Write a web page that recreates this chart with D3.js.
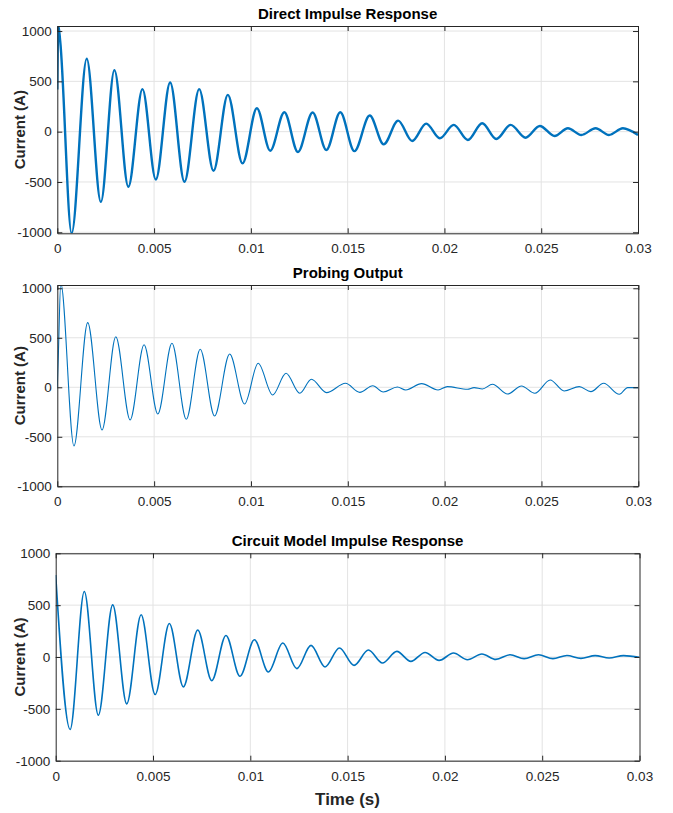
<!DOCTYPE html>
<html>
<head>
<meta charset="utf-8">
<script src="https://cdn.jsdelivr.net/npm/d3@7"></script>
<style>
  body { margin: 0; background: #fff; }
  text { font-family: "Liberation Sans", Arial, sans-serif; }
</style>
</head>
<body>
<script>
// Size of the whole figure
var width = 673;
var height = 813;

// Tick values shared by all three panels
var xTicks = [0, 0.005, 0.01, 0.015, 0.02, 0.025, 0.03];
var yTicks = [-1000, -500, 0, 500, 1000];

// Panel titles
var titles = ["Direct Impulse Response", "Probing Output", "Circuit Model Impulse Response"];

// Direct impulse response: peaks and troughs (s, A)
var directTime = [0, 0.00005, 0.00015, 0.00074, 0.00152, 0.00225, 0.00295, 0.00367, 0.00440,
  0.00509, 0.00583, 0.00657, 0.00733, 0.00807, 0.00881, 0.00957, 0.01031, 0.01100,
  0.01173, 0.01243, 0.01319, 0.01390, 0.01462, 0.01535, 0.01614, 0.01686, 0.01761,
  0.01833, 0.01906, 0.01976, 0.02048, 0.02121, 0.02195, 0.02268, 0.02342, 0.02419,
  0.02493, 0.02569, 0.02638, 0.02707, 0.02781, 0.02850, 0.02922, 0.03000];
var directCurrent = [420, 1060, 900, -1010, 725, -698, 612, -548, 423,
  -475, 489, -498, 423, -389, 366, -315, 233, -189,
  193, -202, 190, -182, 193, -193, 160, -126, 110,
  -93, 80, -66, 67, -83, 84, -73, 67, -60,
  57, -43, 34, -33, 34, -33, 34, -33];

// Probing output
var probeTime = [0, 0.00005, 0.00018, 0.00086, 0.00157, 0.00231, 0.00302, 0.00376, 0.00448,
  0.00519, 0.00592, 0.00666, 0.00738, 0.00812, 0.00890, 0.00967, 0.01037, 0.01112,
  0.01181, 0.01252, 0.01312, 0.01390, 0.01488, 0.01562, 0.01629, 0.01683, 0.01756,
  0.01799, 0.01881, 0.01966, 0.02014, 0.02118, 0.02152, 0.02195, 0.02247, 0.02325,
  0.02397, 0.02466, 0.02545, 0.02617, 0.02695, 0.02755, 0.02821, 0.02902, 0.02945, 0.03000];
var probeCurrent = [0, 300, 1050, -593, 653, -431, 511, -330, 430,
  -270, 444, -323, 384, -290, 336, -169, 242, -78,
  141, -61, 81, -54, 40, -51, 16, -47, 3,
  -27, 37, -27, 7, -20, -3, -17, 30, -68,
  13, -61, 74, -37, 7, -44, 40, -71, -3, -3];

// Circuit model impulse response
var modelTime = [0, 0.00074, 0.00147, 0.00219, 0.00293, 0.00365, 0.00439, 0.00511, 0.00584,
  0.00656, 0.00730, 0.00802, 0.00875, 0.00947, 0.01021, 0.01093, 0.01167, 0.01239,
  0.01312, 0.01384, 0.01458, 0.01533, 0.01607, 0.01679, 0.01753, 0.01825, 0.01898,
  0.01970, 0.02044, 0.02116, 0.02190, 0.02262, 0.02335, 0.02407, 0.02481, 0.02555,
  0.02627, 0.02699, 0.02772, 0.02844, 0.02918, 0.03000];
var modelCurrent = [790, -699, 631, -561, 503, -452, 407, -362, 323,
  -288, 260, -228, 208, -186, 166, -144, 135, -112,
  112, -96, 87, -81, 67, -58, 54, -42, 44,
  -33, 38, -26, 29, -23, 22, -16, 22, -16,
  15, -13, 13, -10, 13, -3];

// Layout of each panel (pixels) and its y-limits
var panels = [
  {time: directTime, current: directCurrent, left: 57.3, right: 638, top: 26, bottom: 233.3,
   yMin: -1010, yMax: 1050, stroke: 2.4, titleY: 19},
  {time: probeTime, current: probeCurrent, left: 57.3, right: 638.3, top: 285, bottom: 486.3,
   yMin: -1000, yMax: 1033, stroke: 1.1, titleY: 277.5},
  {time: modelTime, current: modelCurrent, left: 55.7, right: 639.5, top: 553.3, bottom: 760.7,
   yMin: -1000, yMax: 1000, stroke: 1.6, titleY: 545.5}
];

var lineColor = "#0072bd";
var axisColor = "#262626";
var gridColor = "#e3e3e3";

// Create the SVG element
var svg = d3.select("body")
  .append("svg")
  .attr("width", width)
  .attr("height", height);

svg.append("rect")
  .attr("width", width)
  .attr("height", height)
  .attr("fill", "#fff");

panels.forEach(function(p, i) {
  var x = d3.scaleLinear().domain([0, 0.03]).range([p.left, p.right]);
  var y = d3.scaleLinear().domain([p.yMin, p.yMax]).range([p.bottom, p.top]);
  var g = svg.append("g");

  // Grid lines
  g.selectAll(".vgrid")
    .data(xTicks.slice(1, -1))
    .enter()
    .append("line")
    .attr("x1", function(d) { return x(d); })
    .attr("x2", function(d) { return x(d); })
    .attr("y1", p.top)
    .attr("y2", p.bottom)
    .attr("stroke", gridColor)
    .attr("stroke-width", 1);

  g.selectAll(".hgrid")
    .data(yTicks)
    .enter()
    .append("line")
    .attr("x1", p.left)
    .attr("x2", p.right)
    .attr("y1", function(d) { return y(d); })
    .attr("y2", function(d) { return y(d); })
    .attr("stroke", gridColor)
    .attr("stroke-width", 1);

  // Clip the trace to the axes box
  svg.append("clipPath")
    .attr("id", "clip" + i)
    .append("rect")
    .attr("x", p.left)
    .attr("y", p.top)
    .attr("width", p.right - p.left)
    .attr("height", p.bottom - p.top);

  var line = d3.line()
    .x(function(d) { return x(d[0]); })
    .y(function(d) { return y(d[1]); })
    .curve(d3.curveMonotoneX);

  g.append("path")
    .datum(d3.zip(p.time, p.current))
    .attr("clip-path", "url(#clip" + i + ")")
    .attr("d", line)
    .attr("fill", "none")
    .attr("stroke", lineColor)
    .attr("stroke-width", p.stroke)
    .attr("stroke-linejoin", "round");

  // Axes: labels on bottom and left, tick marks on all four sides pointing inward
  var fmt = function(d) { return String(d); };

  var bottom = g.append("g")
    .attr("transform", "translate(0," + p.bottom + ")")
    .call(d3.axisBottom(x).tickValues(xTicks).tickFormat(fmt).tickSize(-5).tickSizeOuter(0).tickPadding(10.5));
  var left = g.append("g")
    .attr("transform", "translate(" + p.left + ",0)")
    .call(d3.axisLeft(y).tickValues(yTicks).tickFormat(fmt).tickSize(-5).tickSizeOuter(0).tickPadding(5.5));
  var top = g.append("g")
    .attr("transform", "translate(0," + p.top + ")")
    .call(d3.axisTop(x).tickValues(xTicks).tickFormat("").tickSize(-5).tickSizeOuter(0));
  var right = g.append("g")
    .attr("transform", "translate(" + p.right + ",0)")
    .call(d3.axisRight(y).tickValues(yTicks).tickFormat("").tickSize(-5).tickSizeOuter(0));

  [bottom, left, top, right].forEach(function(a) {
    a.selectAll("path, line").attr("stroke", axisColor).attr("stroke-width", 1);
    a.selectAll("text")
      .attr("fill", axisColor)
      .style("font-size", "13.5px")
      .style("font-family", "'Liberation Sans', Arial, sans-serif");
  });

  // Title
  g.append("text")
    .attr("x", (p.left + p.right) / 2)
    .attr("y", p.titleY)
    .attr("text-anchor", "middle")
    .style("font-size", "15px")
    .style("font-weight", "bold")
    .attr("fill", "#000")
    .text(titles[i]);

  // Y label
  g.append("text")
    .attr("transform", "translate(25," + ((p.top + p.bottom) / 2) + ") rotate(-90)")
    .attr("text-anchor", "middle")
    .style("font-size", "15px")
    .style("font-weight", "bold")
    .attr("fill", axisColor)
    .text("Current (A)");
});

// X label under the last panel
svg.append("text")
  .attr("x", 347.5)
  .attr("y", 805)
  .attr("text-anchor", "middle")
  .style("font-size", "17px")
  .style("font-weight", "bold")
  .attr("fill", axisColor)
  .text("Time (s)");
</script>
</body>
</html>
